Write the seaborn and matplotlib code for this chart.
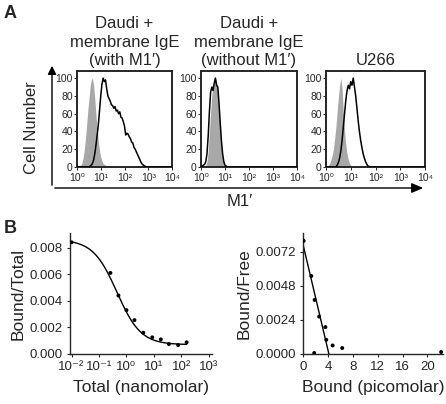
import numpy as np
import pandas as pd
import matplotlib
matplotlib.use("Agg")
import matplotlib.pyplot as plt
import seaborn as sns
from matplotlib.ticker import FixedLocator, LogLocator, NullFormatter

# ---------------------------------------------------------------------
# Panel A - flow cytometry histograms (x given as log10 of M1' intensity)
# ---------------------------------------------------------------------
titles = ["Daudi +\nmembrane IgE\n(with M1\u2032)",
          "Daudi +\nmembrane IgE\n(without M1\u2032)",
          "U266"]

# control (grey filled) histograms
ctrl1_log = [0.0, 0.05, 0.1, 0.15, 0.2, 0.25, 0.3, 0.35, 0.4, 0.45, 0.5, 0.55, 0.6,
             0.65, 0.7, 0.75, 0.8, 0.85, 0.9, 0.95, 1.0, 1.05, 1.1, 1.15, 1.2, 1.3,
             1.4, 1.6, 1.8, 2.0]
ctrl1_cnt = [0, 0.5, 1, 2, 4, 9, 18, 30, 45, 62, 76, 90, 98, 100, 92, 76, 58, 42,
             28, 18, 11, 7, 4, 3, 2, 1.5, 1, 0.5, 0.2, 0]

ctrl2_log = [0.1, 0.15, 0.2, 0.25, 0.3, 0.35, 0.4, 0.45, 0.5, 0.55, 0.6, 0.65, 0.7,
             0.75, 0.8, 0.85, 0.9, 0.95, 1.0, 1.05, 1.1]
ctrl2_cnt = [0, 0.5, 2, 6, 18, 40, 62, 80, 90, 95, 100, 96, 82, 60, 38, 20, 9, 4,
             1.5, 0.5, 0]

ctrl3_log = [0.0, 0.05, 0.1, 0.15, 0.2, 0.25, 0.3, 0.35, 0.4, 0.45, 0.5, 0.55, 0.6,
             0.65, 0.7, 0.75, 0.8, 0.85, 0.9, 0.95, 1.0, 1.1, 1.2]
ctrl3_cnt = [0, 1, 2, 4, 8, 13, 20, 32, 45, 62, 78, 92, 100, 88, 62, 40, 25, 15, 8,
             4, 2, 0.5, 0]

# stained (black outline) histograms
stain1_log = [0.0, 0.5, 0.55, 0.6, 0.65, 0.7, 0.75, 0.8, 0.85, 0.9, 0.95, 1.0, 1.05,
              1.1, 1.15, 1.2, 1.25, 1.3, 1.35, 1.4, 1.45, 1.5, 1.55, 1.6, 1.65, 1.7,
              1.75, 1.8, 1.85, 1.9, 1.95, 2.0, 2.05, 2.1, 2.15, 2.2, 2.25, 2.3, 2.35,
              2.4, 2.45, 2.5, 2.55, 2.6, 2.65, 2.7, 2.75, 2.8, 2.85, 2.9, 2.95, 4.0]
stain1_cnt = [0, 0, 1, 2, 4, 8, 15, 25, 36, 48, 64, 80, 93, 100, 96, 98, 88, 80, 77,
              74, 70, 69, 66, 68, 63, 64, 60, 62, 56, 55, 51, 46, 36, 38, 37, 34, 32,
              28, 27, 22, 20, 17, 14, 11, 8, 5, 3, 2, 1, 0.5, 0, 0]

stain2_log = [0.0, 0.05, 0.1, 0.15, 0.2, 0.25, 0.3, 0.35, 0.4, 0.45, 0.5, 0.55, 0.6,
              0.65, 0.7, 0.75, 0.8, 0.85, 0.9, 0.95, 1.0, 1.05, 1.1, 4.0]
stain2_cnt = [0, 1, 2, 3, 6, 15, 35, 62, 84, 90, 86, 94, 100, 92, 90, 72, 50, 30,
              15, 6, 2, 1, 0, 0]

stain3_log = [0.0, 0.4, 0.45, 0.5, 0.55, 0.6, 0.65, 0.7, 0.75, 0.8, 0.85, 0.9, 0.95,
              1.0, 1.05, 1.1, 1.15, 1.2, 1.25, 1.3, 1.35, 1.4, 1.45, 1.5, 1.55, 1.6,
              1.65, 1.7, 1.8, 4.0]
stain3_cnt = [0, 0, 2, 5, 10, 18, 30, 45, 60, 75, 86, 92, 88, 96, 92, 100, 90, 80,
              66, 52, 40, 30, 22, 15, 10, 6, 3, 1, 0, 0]

ctrl_sets = [(ctrl1_log, ctrl1_cnt), (ctrl2_log, ctrl2_cnt), (ctrl3_log, ctrl3_cnt)]
stain_sets = [(stain1_log, stain1_cnt), (stain2_log, stain2_cnt), (stain3_log, stain3_cnt)]

hist_ticks = [1, 10, 100, 1000, 10000]
hist_ticklabels = ["10\u2070", "10\u00b9", "10\u00b2", "10\u00b3", "10\u2074"]

# ---------------------------------------------------------------------
# Panel B - binding data
# ---------------------------------------------------------------------
total_nM = [0.01, 0.26, 0.51, 1.0, 1.95, 4.1, 8.7, 17.8, 35, 76, 155]
bound_total = [0.0084, 0.0061, 0.0044, 0.0033, 0.00255, 0.0016, 0.00125, 0.0011,
               0.00075, 0.00067, 0.00088]
# sigmoid fit parameters (top, bottom, midpoint, slope)
fit_top, fit_bottom, fit_mid, fit_hill = 0.0086, 0.0007, 0.45, 1.0

bound_pM = [0.1, 1.34, 1.87, 2.6, 3.6, 3.74, 4.76, 6.3, 1.8, 22.2]
bound_free = [0.00795, 0.00548, 0.0038, 0.00263, 0.00189, 0.0010, 0.0006, 0.00042,
              0.00007, 0.00014]
# Scatchard regression line
sc_intercept, sc_slope = 0.0077, -0.00185

# ---------------------------------------------------------------------
sns.set_style("ticks")
plt.rcParams["font.family"] = ["Liberation Sans", "DejaVu Sans"]
plt.rcParams["axes.linewidth"] = 1.0

W, H = 446, 404
fig = plt.figure(figsize=(W / 100, H / 100), dpi=100)


def px_axes(x0, y0, x1, y1):
    return fig.add_axes([x0 / W, 1 - y1 / H, (x1 - x0) / W, (y1 - y0) / H])


hist_boxes = [(77, 71, 172, 167), (201, 71, 297, 167), (326, 71, 425, 167)]
for i, box in enumerate(hist_boxes):
    ax = px_axes(*box)
    cl, cc = ctrl_sets[i]
    cx = 10 ** np.array(cl)
    ax.fill_between(cx, cc, 0, color="#a8a8a8", linewidth=0, zorder=1)
    sl, sc = stain_sets[i]
    d = pd.DataFrame({"x": 10 ** np.array(sl), "y": sc})
    sns.lineplot(data=d, x="x", y="y", ax=ax, color="black", linewidth=1.1,
                 sort=False, zorder=3)
    ax.set_xscale("log")
    ax.set_xlim(1, 10000)
    ax.set_ylim(0, 108)
    ax.set_xticks(hist_ticks)
    ax.set_xticklabels(hist_ticklabels)
    ax.xaxis.set_minor_locator(LogLocator(base=10, subs=np.arange(2, 10)))
    ax.xaxis.set_minor_formatter(NullFormatter())
    ax.set_yticks([0, 20, 40, 60, 80, 100])
    ax.yaxis.set_minor_locator(FixedLocator(np.arange(0, 101, 5)))
    ax.tick_params(axis="both", which="major", labelsize=7.5, length=2, width=0.7,
                   pad=1)
    ax.tick_params(axis="x", which="major", pad=2)
    ax.tick_params(axis="both", which="minor", length=1, width=0.5)
    for s in ax.spines.values():
        s.set_linewidth(1.4)
    ax.set_xlabel("")
    ax.set_ylabel("")
    ax.text(0.5, 1.03, titles[i], transform=ax.transAxes, ha="center", va="bottom",
            fontsize=12, linespacing=1.3)

# outer arrows of panel A
x0f = 52 / W
ybase = 1 - 188 / H
fig.add_artist(matplotlib.patches.FancyArrowPatch(
    (x0f, ybase), (x0f, 1 - 63 / H), transform=fig.transFigure,
    arrowstyle="-|>,head_length=5,head_width=2.5", color="black", linewidth=1.0,
    mutation_scale=1))
fig.add_artist(matplotlib.patches.FancyArrowPatch(
    (x0f, ybase), (426 / W, ybase), transform=fig.transFigure,
    arrowstyle="-|>,head_length=7,head_width=3", color="black", linewidth=1.0,
    mutation_scale=1))
fig.text(32 / W, 1 - 128 / H, "Cell Number", rotation=90, ha="center", va="center",
         fontsize=12)
fig.text(240 / W, 1 - 202 / H, "M1\u2032", ha="center", va="center", fontsize=12)
fig.text(4 / W, 1 - 14 / H, "A", ha="left", va="center", fontsize=13,
         fontweight="bold")
fig.text(4 / W, 1 - 229 / H, "B", ha="left", va="center", fontsize=13,
         fontweight="bold")

# --- B left: Bound/Total vs total
axL = px_axes(70, 233, 212, 354)
sns.scatterplot(x=total_nM, y=bound_total, ax=axL, color="black", s=8,
                edgecolor="none", zorder=3)
fx = np.logspace(np.log10(total_nM[0]), np.log10(total_nM[-1]), 200)
fy = fit_bottom + (fit_top - fit_bottom) / (1 + (fx / fit_mid) ** fit_hill)
sns.lineplot(x=fx, y=fy, ax=axL, color="black", linewidth=1.0)
axL.set_xscale("log")
axL.set_xlim(0.0088, 1300)
axL.set_ylim(0, 0.0091)
axL.set_xticks([1e-2, 1e-1, 1, 10, 100, 1000])
axL.set_xticklabels(["10\u207b\u00b2", "10\u207b\u00b9", "10\u2070", "10\u00b9",
                     "10\u00b2", "10\u00b3"])
axL.xaxis.set_minor_locator(FixedLocator([]))
axL.set_yticks([0, 0.002, 0.004, 0.006, 0.008])
axL.set_yticklabels(["0.000", "0.002", "0.004", "0.006", "0.008"])
axL.set_xlabel("Total (nanomolar)", fontsize=12.5, labelpad=5)
axL.set_ylabel("Bound/Total", fontsize=12.5, labelpad=3)
axL.tick_params(labelsize=9.5, length=2, width=0.8, pad=3)

# --- B right: Scatchard plot
axR = px_axes(303, 233, 443, 354)
sns.scatterplot(x=bound_pM, y=bound_free, ax=axR, color="black", s=8,
                edgecolor="none", zorder=3)
lx = np.array([0, -sc_intercept / sc_slope])
sns.lineplot(x=lx, y=sc_intercept + sc_slope * lx, ax=axR, color="black",
             linewidth=1.0)
axR.set_xlim(0, 22.5)
axR.set_ylim(0, 0.0085)
axR.set_xticks([0, 4, 8, 12, 16, 20])
axR.set_yticks([0, 0.0024, 0.0048, 0.0072])
axR.set_yticklabels(["0.0000", "0.0024", "0.0048", "0.0072"])
axR.set_xlabel("Bound (picomolar)", fontsize=12.5, labelpad=5)
axR.set_ylabel("Bound/Free", fontsize=12.5, labelpad=3)
axR.tick_params(labelsize=9.5, length=2, width=0.8, pad=3)

for ax in (axL, axR):
    sns.despine(ax=ax)
    for s in ax.spines.values():
        s.set_linewidth(1.0)

fig.savefig("out.png", dpi=100)
